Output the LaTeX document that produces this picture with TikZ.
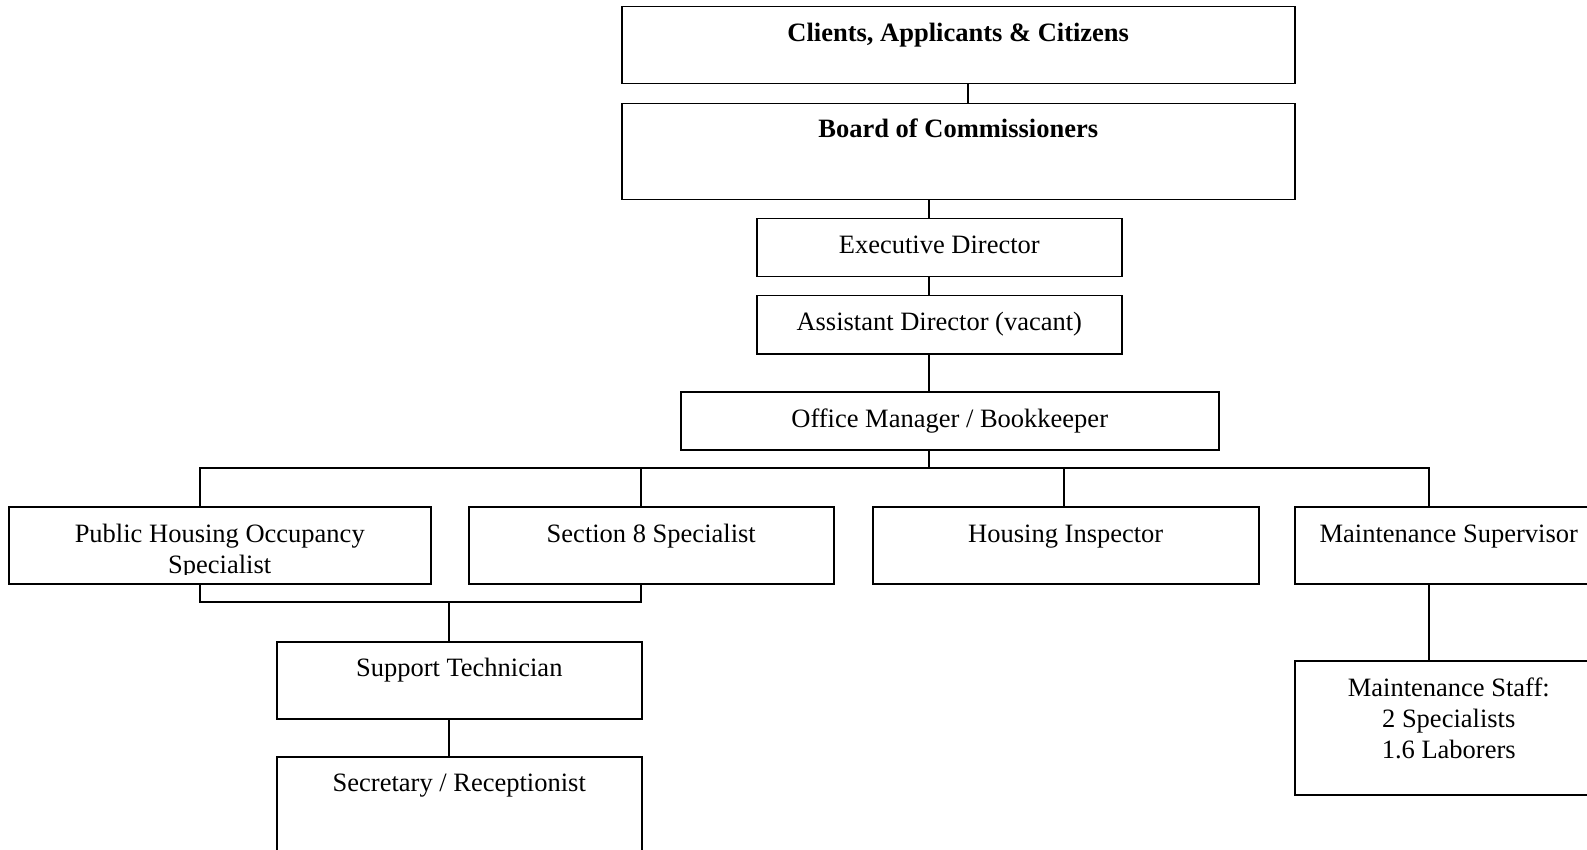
\documentclass[tikz,border=0pt]{standalone}
\usepackage{fontspec}
\setmainfont{Liberation Serif}
\begin{document}
\begin{tikzpicture}[x=1pt,y=-1pt,
  box/.style={draw, line width=1.5pt, rectangle, inner sep=0pt, anchor=north west},
  lbl/.style={anchor=base, inner sep=0pt, font=\fontsize{26.5}{31}\selectfont},
  mlbl/.style={anchor=north, inner sep=0pt, align=center, font=\fontsize{26.5}{31}\selectfont},
  conn/.style={line width=1.5pt}]
\useasboundingbox (0,0) rectangle (1587,850);
\clip (0,0) rectangle (1587,850);
% boxes
\node[box, minimum width=673pt, minimum height=77pt] (clients) at (621,6) {};
\node[box, minimum width=673pt, minimum height=96pt] (board) at (621,103) {};
\node[box, minimum width=365pt, minimum height=58pt] (exec) at (756,218) {};
\node[box, minimum width=365pt, minimum height=58pt] (asst) at (756,295) {};
\node[box, minimum width=538pt, minimum height=58pt] (office) at (680,391) {};
\node[box, minimum width=422pt, minimum height=77pt] (phos) at (8,506) {};
\node[box, minimum width=365pt, minimum height=77pt] (sec8) at (468,506) {};
\node[box, minimum width=386pt, minimum height=77pt] (hi) at (872,506) {};
\node[box, minimum width=308pt, minimum height=77pt] (ms) at (1294,506) {};
\node[box, minimum width=365pt, minimum height=77pt] (support) at (276,641) {};
\node[box, minimum width=365pt, minimum height=120pt] (secr) at (276,756) {};
\node[box, minimum width=308pt, minimum height=134pt] (staff) at (1294,660) {};
% labels
\node[lbl] (tclients) at (clients.north |- 0,42) {\bfseries Clients, Applicants \& Citizens};
\node[lbl] (tboard) at (board.north |- 0,138) {\bfseries Board of Commissioners};
\node[lbl] (texec) at (exec.north |- 0,254) {Executive Director};
\node[lbl] (tasst) at (asst.north |- 0,330) {Assistant Director (vacant)};
\node[lbl] (toffice) at (office.north |- 0,427) {Office Manager / Bookkeeper};
\begin{scope}
\clip (8,506) rectangle (430,574);
\node[mlbl] (tphos) at (phos.north |- 0,524) {Public Housing Occupancy\\Specialist};
\end{scope}
\node[lbl] (tsec8) at (sec8.north |- 0,542) {Section 8 Specialist};
\node[lbl] (thi) at (hi.north |- 0,542) {Housing Inspector};
\node[lbl] (tms) at (ms.north |- 0,542) {Maintenance Supervisor};
\node[lbl] (tsupport) at (support.north |- 0,676) {Support Technician};
\node[lbl] (tsecr) at (secr.north |- 0,791) {Secretary / Receptionist};
\node[mlbl] (tstaff) at (staff.north |- 0,678) {Maintenance Staff:\\2 Specialists\\1.6 Laborers};
% connector coordinates
\coordinate (xa) at (968,0);
\coordinate (xb) at (929,0);
\coordinate (xl) at (200,0);
\coordinate (xs) at (641,0);
\coordinate (xh) at (1064,0);
\coordinate (xm) at (1429,0);
\coordinate (xt) at (449,0);
\coordinate (busL) at (200,468);
\coordinate (busR) at (1429,468);
\coordinate (busB) at (929,468);
\coordinate (lowL) at (200,602);
\coordinate (lowR) at (641,602);
\coordinate (lowM) at (449,602);
% connectors
\draw[conn] (clients.south -| xa) -- (board.north -| xa);
\draw[conn] (board.south -| xb) -- (exec.north -| xb);
\draw[conn] (exec.south -| xb) -- (asst.north -| xb);
\draw[conn] (asst.south -| xb) -- (office.north -| xb);
\draw[conn] (office.south -| xb) -- (busB);
\draw[conn] (phos.north -| xl) -- (busL) -- (busR) -- (ms.north -| xm);
\draw[conn] (sec8.north -| xs) -- (busL -| xs);
\draw[conn] (hi.north -| xh) -- (busL -| xh);
\draw[conn] (phos.south -| xl) -- (lowL) -- (lowR) -- (sec8.south -| xs);
\draw[conn] (lowM) -- (support.north -| xt);
\draw[conn] (support.south -| xt) -- (secr.north -| xt);
\draw[conn] (ms.south -| xm) -- (staff.north -| xm);
\end{tikzpicture}
\end{document}
